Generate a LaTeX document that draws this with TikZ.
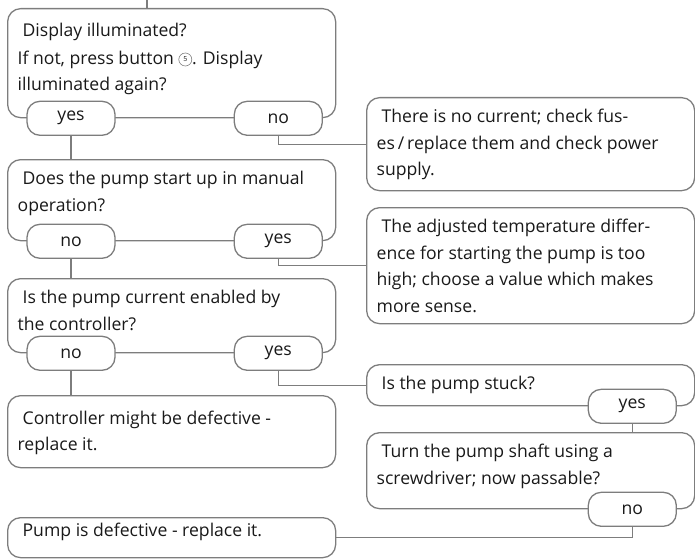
\documentclass[tikz,border=0pt]{standalone}
\usepackage{fontspec}
\setmainfont{Open Sans}
\definecolor{linegray}{RGB}{125,125,125}
\definecolor{textgray}{RGB}{25,25,25}
\newcommand{\btn}[1]{\tikz[baseline=-4.7pt]{\draw[linegray, line width=0.6pt] (0,0) circle[radius=6.5pt];
  \pgftext{\color{textgray}\fontsize{7}{7}\selectfont #1}}}
\begin{document}
\begin{tikzpicture}[x=1pt, y=-1pt,
  qbox/.style={draw=linegray, line width=1.3pt, rounded corners=13pt, anchor=north west,
    inner xsep=10pt, inner ysep=6.5pt,
    execute at begin node={\begin{minipage}[t][#1][t]{308pt}\raggedright\strut},
    execute at end node={\end{minipage}}},
  tab/.style={draw=linegray, line width=1.3pt, rounded corners=13pt, fill=white,
    minimum width=88pt, minimum height=34pt, inner sep=0pt},
  link/.style={draw=linegray, line width=1.3pt},
  every node/.style={text=textgray, font=\fontsize{17.6}{26.5}\selectfont}]
  \useasboundingbox (0,0) rectangle (695,559);

  \node[qbox=90pt, inner ysep=9.5pt] (q1) at (7,8) {\hspace*{5pt}Display illuminated?\\[1pt]
    If not, press button~\btn{5}. Display\\illuminated again?};
  \node[qbox=80pt] (info1) at (366,97) {\hspace*{5pt}There is no current; check fus-\\
    es\,/\,replace them and check power\\supply.};
  \node[qbox=68pt] (q2) at (7,159) {\hspace*{5pt}Does the pump start up in manual\\operation?};
  \node[qbox=103pt] (info2) at (366,207) {\hspace*{5pt}The adjusted temperature differ-\\
    ence for starting the pump is too\\high; choose a value which makes\\more sense.};
  \node[qbox=61pt] (q3) at (7,278) {\hspace*{5pt}Is the pump current enabled by\\the controller?};
  \node[qbox=28pt] (q4) at (366,364) {\hspace*{5pt}Is the pump stuck?};
  \node[qbox=52pt, inner ysep=10pt] (res1) at (7,395) {\hspace*{5pt}Controller might be defective -\\replace it.};
  \node[qbox=63pt] (q5) at (366,432) {\hspace*{5pt}Turn the pump shaft using a\\
    screwdriver; now passable?};
  \node[qbox=39pt, inner ysep=0.5pt] (res2) at (7,517) {\hspace*{5pt}Pump is defective - replace it.};

  \node[tab] (q1yes) at ([xshift=64pt]q1.south west) {yes};
  \node[tab] (q1no) at ([xshift=-58pt]q1.south east) {no};
  \node[tab] (q2no) at ([xshift=64pt]q2.south west) {no};
  \node[tab] (q2yes) at ([xshift=-58pt]q2.south east) {yes};
  \node[tab] (q3no) at ([xshift=64pt]q3.south west) {no};
  \node[tab] (q3yes) at ([xshift=-58pt]q3.south east) {yes};
  \node[tab] (q4yes) at ([xshift=-63pt]q4.south east) {yes};
  \node[tab] (q5no) at ([xshift=-63pt]q5.south east) {no};

  \coordinate (start) at (147,0);
  \draw[link] (start) -- (start |- q1.north);
  \draw[link] (q1yes.south) -- (q1yes.south |- q2.north);
  \draw[link] (q1no.south) |- (info1.west);
  \draw[link] (q2no.south) -- (q2no.south |- q3.north);
  \draw[link] (q2yes.south) |- (info2.west);
  \draw[link] (q3no.south) -- (q3no.south |- res1.north);
  \draw[link] (q3yes.south) |- (q4.west);
  \draw[link] (q4yes.south) -- (q4yes.south |- q5.north);
  \draw[link] (q5no.south) |- (res2.east);
\end{tikzpicture}
\end{document}
